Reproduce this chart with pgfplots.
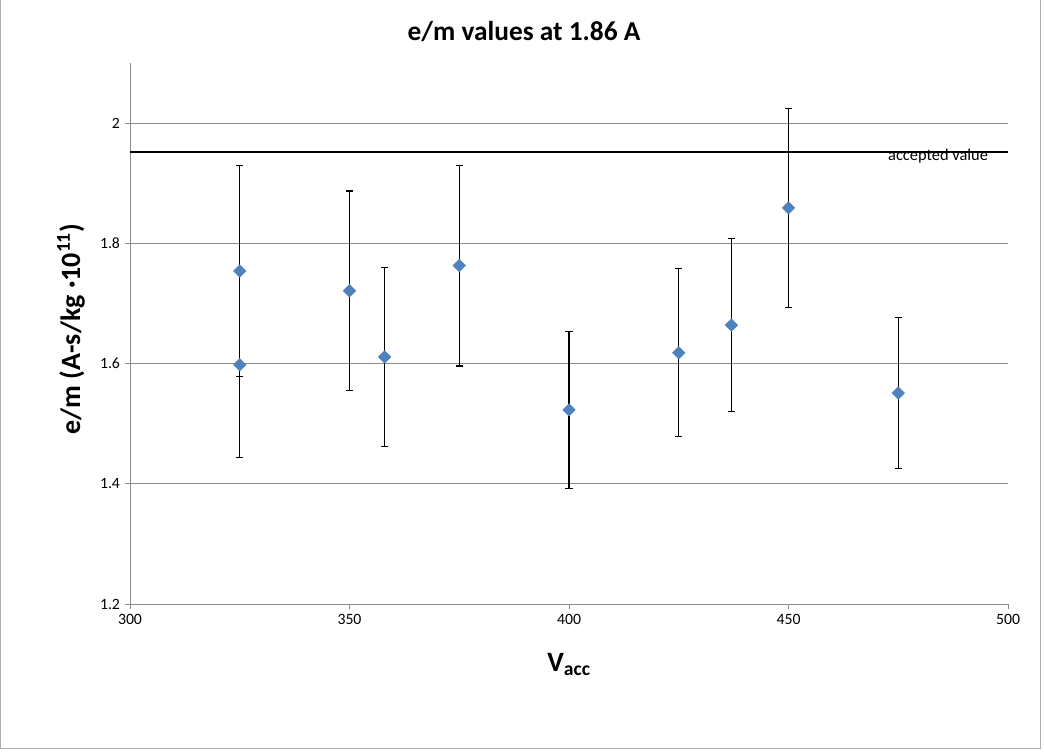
\documentclass[border=0pt]{standalone}
\usepackage{pgfplots}
\pgfplotsset{compat=1.18}
\usepackage{pgfplotstable}
\usepackage{fontspec}
\setmainfont{Carlito}

\definecolor{excelblue}{HTML}{4F81BD}
\definecolor{gridgray}{HTML}{8C8C8C}

% V_acc, e/m, error
\pgfplotstableread{
x    y      e
325  1.754  0.176
325  1.598  0.154
350  1.721  0.166
358  1.611  0.149
375  1.763  0.167
400  1.523  0.131
425  1.618  0.140
437  1.664  0.144
450  1.859  0.166
475  1.551  0.125
}\emdata

\begin{document}
\begin{tikzpicture}
\useasboundingbox (0pt,0pt) rectangle (783pt,564.75pt);
\draw[gridgray!70, line width=0.75pt] (0.4pt,564.75pt)--(0.4pt,3.75pt)--(780.4pt,3.75pt)--(780.4pt,564.75pt);

\begin{axis}[
  at={(97.5pt,111.75pt)}, anchor=south west,
  scale only axis,
  width=658.5pt, height=405.75pt,
  xmin=300, xmax=500, ymin=1.2, ymax=2.1,
  xtick={300,350,...,500},
  ytick={1.2,1.4,...,2.0},
  yticklabel style={/pgf/number format/fixed},
  /pgf/number format/assume math mode=true,
  ticklabel style={font=\fontsize{11.8}{13}\selectfont},
  ymajorgrids=true,
  grid style={gridgray, line width=0.75pt},
  axis x line*=bottom, axis y line*=left,
  axis line style={gridgray, line width=0.75pt, -},
  tick style={gridgray, line width=0.75pt},
  tick align=outside,
  major tick length=4pt,
  clip=false,
]
\addplot[black, line width=0.9pt, no marks] coordinates {(300,1.952) (500,1.952)};
\addplot[only marks, mark=square*, mark size=3.3pt,
  mark options={rotate=45, fill=excelblue, draw=excelblue},
  error bars/.cd, y dir=both, y explicit,
  error bar style={black, line width=0.85pt},
  error mark options={rotate=90, mark size=2.7pt, black, line width=0.85pt}]
  table[x=x, y=y, y error=e] {\emdata};
\node[anchor=north east, inner sep=0pt, font=\fontsize{12.3}{14}\selectfont]
  at (axis cs:495.5,1.957) {accepted value};
\end{axis}

\node[anchor=base, font=\fontsize{20.5}{22}\selectfont\bfseries] at (393pt,534.2pt) {e/m values at 1.86 A};
\node[anchor=base, font=\fontsize{21}{23}\selectfont\bfseries] at (426.75pt,61.5pt) {V\textsubscript{acc}};
\node[anchor=base, rotate=90, font=\fontsize{21}{23}\selectfont\bfseries] at (60pt,318pt) {e/m (A-s/kg ·10\textsuperscript{11})};
\end{tikzpicture}
\end{document}
